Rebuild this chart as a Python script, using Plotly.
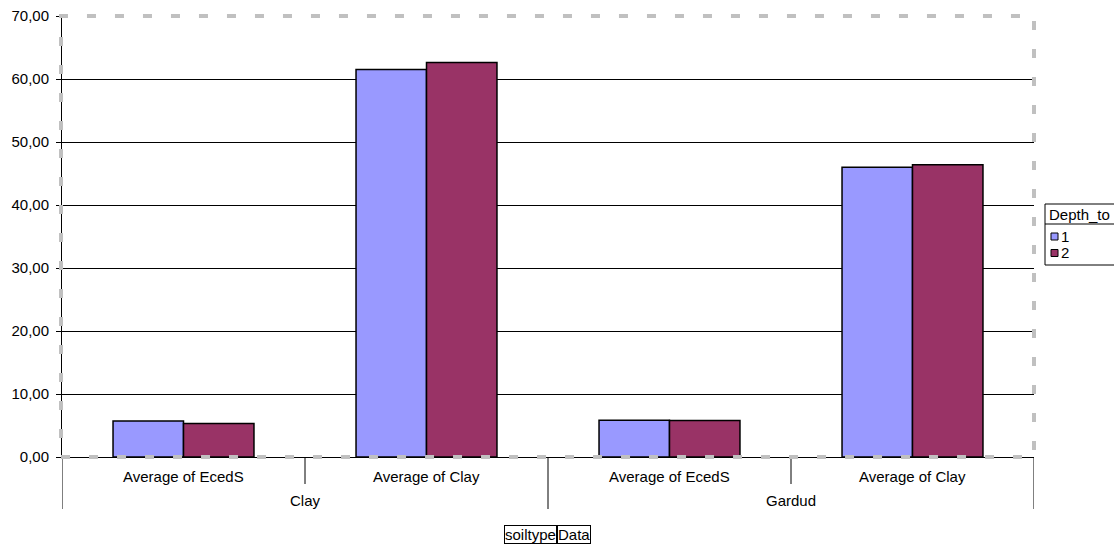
import plotly.graph_objects as go

soil_types = ["Clay", "Clay", "Gardud", "Gardud"]
measures = ["Average of EcedS", "Average of Clay", "Average of EcedS", "Average of Clay"]
depth_1 = [5.7, 61.5, 5.85, 46.0]
depth_2 = [5.3, 62.6, 5.8, 46.4]
y_ticks = [0, 10, 20, 30, 40, 50, 60, 70]
legend_title = "Depth_to"
series_names = ["1", "2"]
series_colors = ["#9999FF", "#993366"]

FONT = "Liberation Sans, Arial, sans-serif"
W, H = 1114, 545
ML, MR, MT, MB = 62, 80, 16, 88
PW, PH = W - ML - MR, H - MT - MB


def px_x(px):
    """Pixel column -> paper x."""
    return (px - ML) / PW


def px_y(py):
    """Pixel row -> paper y."""
    return (H - MB - py) / PH


positions = list(range(len(measures)))

fig = go.Figure()
for name, vals, col in zip(series_names, [depth_1, depth_2], series_colors):
    fig.add_trace(go.Bar(
        x=positions, y=vals, name=name,
        marker=dict(color=col, line=dict(color="#000000", width=1.5)),
    ))

fig.update_layout(
    width=W, height=H,
    margin=dict(l=ML, r=MR, t=MT, b=MB, autoexpand=False),
    paper_bgcolor="white", plot_bgcolor="white",
    separators=",.",
    barmode="group", bargap=0.42, bargroupgap=0,
    font=dict(family=FONT, size=15, color="#000000"),
    showlegend=False,
)

fig.update_xaxes(
    range=[-0.5, len(measures) - 0.5], showticklabels=False, ticks="",
    showgrid=False, zeroline=False, automargin=False,
    showline=True, linecolor="#000000", linewidth=1,
)
fig.update_yaxes(
    range=[0, 70], tickvals=y_ticks, tickformat=".2f",
    showgrid=True, gridcolor="#000000", gridwidth=1,
    showline=True, linecolor="#000000", linewidth=1,
    ticks="outside", ticklen=5, tickcolor="#000000", ticklabelstandoff=4,
    zeroline=False, tickfont=dict(size=15), automargin=False,
)

# category labels (inner level)
for p, m in zip(positions, measures):
    fig.add_annotation(text=m, x=p, xref="x", y=0, yref="paper", yshift=-19,
                       yanchor="middle", showarrow=False, font=dict(size=15))

# group labels (outer level) and separators
groups = []
for p, s in zip(positions, soil_types):
    if not groups or groups[-1][0] != s:
        groups.append([s, [p]])
    else:
        groups[-1][1].append(p)

for s, ps in groups:
    fig.add_annotation(text=s, x=sum(ps) / len(ps), xref="x", y=0, yref="paper",
                       yshift=-43, yanchor="middle", showarrow=False,
                       font=dict(size=15))
    # short ticks between categories within a group
    for a, b in zip(ps[:-1], ps[1:]):
        xm = (a + b) / 2
        fig.add_shape(type="line", xref="x", yref="paper", x0=xm, x1=xm,
                      y0=0, y1=-27 / PH, line=dict(color="#000000", width=1))

# long dividers at group boundaries
bounds = [groups[0][1][0] - 0.5] + [g[1][-1] + 0.5 for g in groups]
for xb in bounds:
    fig.add_shape(type="line", xref="x", yref="paper", x0=xb, x1=xb,
                  y0=0, y1=-52 / PH, line=dict(color="#000000", width=1))

# dashed plot-area frame
fig.add_shape(type="rect", xref="paper", yref="paper", x0=-0.001, x1=1, y0=0, y1=1,
              line=dict(color="#C0C0C0", width=4, dash="9px,19px"), layer="above")

# legend box
fig.add_shape(type="rect", xref="paper", yref="paper",
              x0=px_x(1045), x1=px_x(1130), y0=px_y(265), y1=px_y(204),
              line=dict(color="#000000", width=1), fillcolor="white", layer="above")
fig.add_shape(type="line", xref="paper", yref="paper",
              x0=px_x(1045), x1=px_x(1130), y0=px_y(224), y1=px_y(224),
              line=dict(color="#000000", width=1), layer="above")
fig.add_annotation(text=legend_title, xref="paper", yref="paper",
                   x=px_x(1047), y=px_y(214), xanchor="left", yanchor="middle",
                   showarrow=False, font=dict(size=15))
for i, (name, col) in enumerate(zip(series_names, series_colors)):
    cy = 236.5 + i * 16.5
    fig.add_shape(type="rect", xref="paper", yref="paper",
                  x0=px_x(1051), x1=px_x(1058), y0=px_y(cy + 3.5), y1=px_y(cy - 3.5),
                  line=dict(color="#000000", width=1), fillcolor=col, layer="above")
    fig.add_annotation(text=name, xref="paper", yref="paper",
                       x=px_x(1059), y=px_y(cy), xanchor="left", yanchor="middle",
                       showarrow=False, font=dict(size=15))

# field buttons under the chart
for txt, anchor in [("soiltype", "right"), ("Data", "left")]:
    fig.add_annotation(text=txt, xref="paper", yref="paper", x=px_x(557), y=0,
                       yshift=-77, xanchor=anchor, yanchor="middle", showarrow=False,
                       bordercolor="#000000", borderwidth=1, borderpad=0,
                       font=dict(size=15))

fig.write_html("out.html")
